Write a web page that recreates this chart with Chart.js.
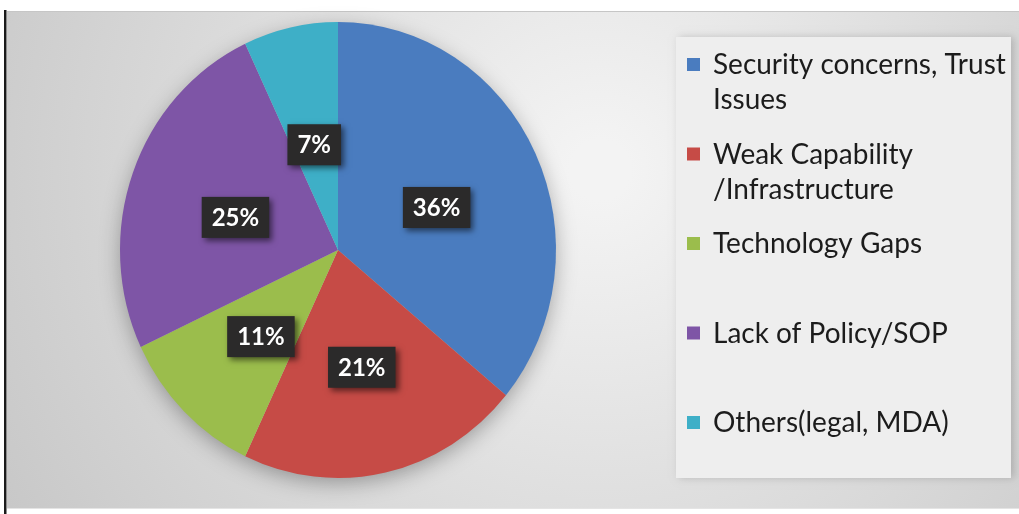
<!DOCTYPE html>
<html>
<head>
<meta charset="utf-8">
<script src="https://cdn.jsdelivr.net/npm/chart.js@4"></script>
<style>
html, body { margin: 0; padding: 0; background: #fff; overflow: hidden; }
#wrap { width: 1019px; height: 514px; position: relative; }
</style>
</head>
<body>
<div id="wrap"><canvas id="pieChart" width="1019" height="514"></canvas></div>
<script>
// values
const categories = ['Security concerns, Trust Issues', 'Weak Capability /Infrastructure', 'Technology Gaps', 'Lack of Policy/SOP', 'Others(legal, MDA)'];
const shares = [36, 21, 11, 25, 7];
const sliceColors = ['#4a7cbf', '#c64b46', '#9bbd4c', '#7e55a6', '#3eafc7'];

// the original pie is a little taller than wide
const stretchY = 228 / 218;

// grey gradient panel, frame lines, pie shadow and the legend box
const backdrop = {
    id: 'backdrop',
    beforeDraw(chart) {
        const ctx = chart.ctx;
        ctx.save();
        ctx.fillStyle = '#fff';
        ctx.fillRect(0, 0, chart.width, chart.height);
        const g = ctx.createRadialGradient(600, 170, 30, 600, 170, 680);
        g.addColorStop(0, '#f3f3f3');
        g.addColorStop(1, '#c8c8c8');
        ctx.fillStyle = g;
        ctx.fillRect(7, 12, 1012, 497);
        ctx.fillStyle = '#c6c6c6';
        ctx.fillRect(7, 11, 1012, 1);
        ctx.fillStyle = '#e4e4e4';
        ctx.fillRect(7, 508, 1012, 1);
        ctx.fillStyle = '#1b1b1b';
        ctx.fillRect(4, 10, 2.5, 504);

        // legend panel
        ctx.shadowColor = 'rgba(0,0,0,0.18)';
        ctx.shadowBlur = 8;
        ctx.shadowOffsetX = 3;
        ctx.fillStyle = '#eeeeee';
        ctx.fillRect(676, 37, 335, 441);
        ctx.restore();
    },
    beforeDatasetsDraw(chart) {
        const arc = chart.getDatasetMeta(0).data[0];
        if (!arc) return;
        const ctx = chart.ctx;
        ctx.save();
        ctx.translate(arc.x, arc.y);
        ctx.scale(1, stretchY);
        ctx.translate(-arc.x, -arc.y);
        ctx.save();
        ctx.shadowColor = 'rgba(0,0,0,0.35)';
        ctx.shadowBlur = 22;
        ctx.shadowOffsetY = 6;
        ctx.fillStyle = '#bdbdbd';
        ctx.beginPath();
        ctx.arc(arc.x, arc.y, arc.outerRadius - 2, 0, Math.PI * 2);
        ctx.fill();
        ctx.restore();
    },
    afterDatasetsDraw(chart) {
        chart.ctx.restore();
    }
};

// dark percentage tags on the slices
const sliceTags = {
    id: 'sliceTags',
    afterDatasetsDraw(chart) {
        const ctx = chart.ctx;
        const ds = chart.data.datasets[0];
        ctx.save();
        ctx.font = 'bold 24px Lato, "Open Sans", sans-serif';
        ctx.textAlign = 'center';
        ctx.textBaseline = 'middle';
        chart.getDatasetMeta(0).data.forEach((arc, i) => {
            const p = arc.tooltipPosition();
            const px = p.x;
            const py = arc.y + (p.y - arc.y) * stretchY + 6;
            const txt = ds.data[i] + '%';
            const w = ctx.measureText(txt).width + 20;
            const h = 41;
            ctx.shadowColor = 'rgba(0,0,0,0.55)';
            ctx.shadowBlur = 6;
            ctx.shadowOffsetX = 3;
            ctx.shadowOffsetY = 3;
            ctx.fillStyle = '#2b2a2a';
            ctx.fillRect(px - w / 2, py - h / 2, w, h);
            ctx.shadowColor = 'transparent';
            ctx.fillStyle = '#ffffff';
            ctx.fillText(txt, px, py + 1);
        });
        ctx.restore();
    }
};

// legend drawn by hand so the labels can wrap like the original
const sideLegend = {
    id: 'sideLegend',
    afterDraw(chart) {
        const ctx = chart.ctx;
        const labels = chart.data.labels;
        const colors = chart.data.datasets[0].backgroundColor;
        const left = 713, maxW = 305, lineH = 35;
        ctx.save();
        ctx.font = '28px Lato, "Open Sans", sans-serif';
        ctx.textBaseline = 'middle';
        labels.forEach((label, i) => {
            const y0 = 65 + i * 89.5;
            const lines = [];
            let cur = '';
            label.split(' ').forEach(word => {
                const test = cur ? cur + ' ' + word : word;
                if (cur && ctx.measureText(test).width > maxW) {
                    lines.push(cur);
                    cur = word;
                } else {
                    cur = test;
                }
            });
            lines.push(cur);
            ctx.fillStyle = colors[i];
            ctx.fillRect(687, y0 - 7, 13, 13);
            ctx.fillStyle = '#1c1c1c';
            lines.forEach((ln, k) => ctx.fillText(ln, left, y0 + k * lineH));
        });
        ctx.restore();
    }
};

new Chart(document.getElementById('pieChart').getContext('2d'), {
    type: 'pie',
    data: {
        labels: categories,
        datasets: [{
            data: shares,
            backgroundColor: sliceColors,
            borderWidth: 0
        }]
    },
    options: {
        responsive: false,
        animation: false,
        layout: {
            padding: { left: 120, right: 463, top: 32, bottom: 46 }
        },
        plugins: {
            legend: { display: false },
            tooltip: { enabled: false }
        }
    },
    plugins: [backdrop, sliceTags, sideLegend]
});
</script>
</body>
</html>
